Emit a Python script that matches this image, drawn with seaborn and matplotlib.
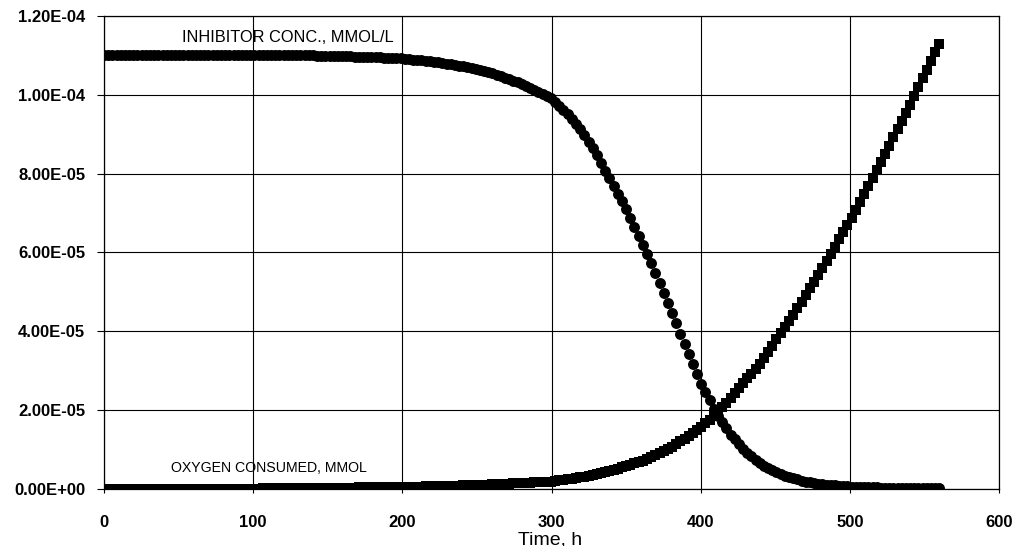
import numpy as np
import pandas as pd
import matplotlib
matplotlib.use("Agg")
import matplotlib.pyplot as plt
import seaborn as sns

# sampling times (h), 201 points every 2.8 h from 0 to 560
time_h = np.round(np.arange(201) * 2.8, 1)

# inhibitor concentration, units of 1e-6 mmol/L
inhibitor_e6 = [110.0] * 50 + [
    110.00, 109.97, 109.94, 109.92, 109.89, 109.86, 109.83, 109.80, 109.78, 109.75,
    109.72, 109.69, 109.66, 109.64, 109.61, 109.56, 109.50, 109.45, 109.39, 109.34,
    109.28, 109.22, 109.14, 109.05, 108.95, 108.85, 108.75, 108.65, 108.56, 108.43,
    108.26, 108.09, 107.92, 107.76, 107.59, 107.42, 107.23, 106.98, 106.73, 106.48,
    106.22, 105.97, 105.72, 105.45, 105.07, 104.69, 104.31, 103.93, 103.56, 103.18,
    102.80, 102.27, 101.74, 101.20, 100.67, 100.14, 99.61, 99.08, 98.16, 97.18,
    96.20, 95.14, 93.88, 92.62, 91.36, 89.80, 88.12, 86.44, 84.72, 82.76,
    80.80, 78.84, 76.88, 74.92, 72.96, 71.00, 68.76, 66.52, 64.28, 61.98,
    59.60, 57.22, 54.84, 52.34, 49.82, 47.30, 44.74, 42.08, 39.42, 36.76,
    34.20, 31.68, 29.16, 26.70, 24.60, 22.50, 20.40, 18.59, 16.99, 15.40,
    13.80, 12.60, 11.39, 10.19, 9.13, 8.26, 7.39, 6.52, 5.90, 5.31,
    4.72, 4.19, 3.80, 3.40, 3.01, 2.70, 2.42, 2.14, 1.88, 1.71,
    1.54, 1.37, 1.24, 1.12, 1.01, 0.90, 0.82, 0.73, 0.65, 0.59,
    0.55, 0.52, 0.48, 0.45, 0.41, 0.38, 0.35, 0.33, 0.32, 0.30,
    0.29, 0.28, 0.26, 0.25, 0.24, 0.24, 0.23, 0.22, 0.22, 0.21,
    0.20,
]

# oxygen consumed, units of 1e-6 mmol
oxygen_e6 = [
    0.00, 0.00, 0.01, 0.01, 0.01, 0.01, 0.02, 0.02, 0.02, 0.03,
    0.03, 0.03, 0.03, 0.04, 0.04, 0.04, 0.04, 0.05, 0.05, 0.05,
    0.06, 0.06, 0.06, 0.06, 0.07, 0.07, 0.07, 0.08, 0.08, 0.08,
    0.08, 0.09, 0.09, 0.09, 0.10, 0.10, 0.10, 0.11, 0.13, 0.14,
    0.15, 0.16, 0.17, 0.18, 0.19, 0.20, 0.22, 0.23, 0.24, 0.25,
    0.26, 0.27, 0.28, 0.29, 0.30, 0.32, 0.33, 0.34, 0.35, 0.36,
    0.37, 0.38, 0.39, 0.41, 0.42, 0.43, 0.44, 0.45, 0.46, 0.47,
    0.48, 0.50, 0.52, 0.54, 0.57, 0.60, 0.63, 0.66, 0.68, 0.71,
    0.74, 0.77, 0.80, 0.82, 0.85, 0.88, 0.91, 0.94, 0.96, 0.99,
    1.04, 1.09, 1.14, 1.19, 1.24, 1.29, 1.34, 1.39, 1.44, 1.49,
    1.54, 1.59, 1.64, 1.69, 1.74, 1.79, 1.84, 1.89, 2.03, 2.19,
    2.34, 2.49, 2.65, 2.80, 2.96, 3.16, 3.38, 3.61, 3.83, 4.06,
    4.28, 4.50, 4.79, 5.13, 5.46, 5.80, 6.14, 6.47, 6.81, 7.21,
    7.70, 8.19, 8.68, 9.17, 9.66, 10.15, 10.70, 11.40, 12.10, 12.80,
    13.50, 14.20, 14.90, 15.64, 16.62, 17.60, 18.58, 19.64, 20.76, 21.88,
    23.00, 24.26, 25.52, 26.78, 28.04, 29.30, 30.56, 31.82, 33.32, 34.86,
    36.40, 37.94, 39.48, 41.02, 42.56, 44.20, 45.88, 47.56, 49.24, 50.92,
    52.60, 54.28, 56.04, 57.86, 59.68, 61.50, 63.32, 65.14, 66.96, 68.86,
    70.88, 72.90, 74.91, 76.93, 78.94, 80.96, 82.99, 85.06, 87.14, 89.21,
    91.28, 93.35, 95.42, 97.52, 99.73, 101.94, 104.15, 106.36, 108.58, 110.79,
    113.00,
]

x_ticks = [0, 100, 200, 300, 400, 500, 600]
y_ticks = [0.0, 2e-5, 4e-5, 6e-5, 8e-5, 1e-4, 1.2e-4]
y_tick_labels = ["0.00E+00", "2.00E-05", "4.00E-05", "6.00E-05",
                 "8.00E-05", "1.00E-04", "1.20E-04"]
label_inhibitor = "INHIBITOR CONC., MMOL/L"
label_oxygen = "OXYGEN CONSUMED, MMOL"
x_title = "Time, h"

df_inh = pd.DataFrame({"t": time_h, "v": np.array(inhibitor_e6) * 1e-6})
df_oxy = pd.DataFrame({"t": time_h, "v": np.array(oxygen_e6) * 1e-6})

sns.set_theme(style="white")
plt.rcParams["font.family"] = ["Liberation Sans", "DejaVu Sans"]

fig = plt.figure(figsize=(10.16, 5.46), dpi=100)
ax = fig.add_axes([0.1024, 0.1044, 0.8809, 0.8663])

sns.scatterplot(data=df_oxy, x="t", y="v", marker="s", s=48, color="black",
                edgecolor="black", linewidth=0, ax=ax, zorder=3)
sns.scatterplot(data=df_inh, x="t", y="v", marker="o", s=62, color="black",
                edgecolor="black", linewidth=0, ax=ax, zorder=3)

ax.set_xlim(0, 600)
ax.set_ylim(0, 1.2e-4)
ax.set_xticks(x_ticks)
ax.set_xticklabels([str(v) for v in x_ticks])
ax.set_yticks(y_ticks)
ax.set_yticklabels(y_tick_labels)
ax.grid(True, color="black", linewidth=0.8)
ax.set_axisbelow(True)
for sp in ax.spines.values():
    sp.set_color("black")
    sp.set_linewidth(0.9)
ax.tick_params(axis="both", which="both", direction="out",
               width=0.8, color="black", labelsize=12, labelcolor="black",
               bottom=True, left=True)
ax.tick_params(axis="x", length=3, pad=16)
ax.tick_params(axis="y", length=5, pad=8.5)
for lab in ax.get_xticklabels() + ax.get_yticklabels():
    lab.set_fontweight("bold")

ax.set_xlabel(x_title, fontsize=14, color="black", va="baseline")
ax.xaxis.set_label_coords(0.498, -0.1163)
ax.set_ylabel("")

ax.text(52, 1.145e-4, label_inhibitor, fontsize=11.8, color="black",
        va="center", ha="left")
ax.text(45, 0.53e-5, label_oxygen, fontsize=10.2, color="black",
        va="center", ha="left")

fig.savefig("out.png", dpi=100)
